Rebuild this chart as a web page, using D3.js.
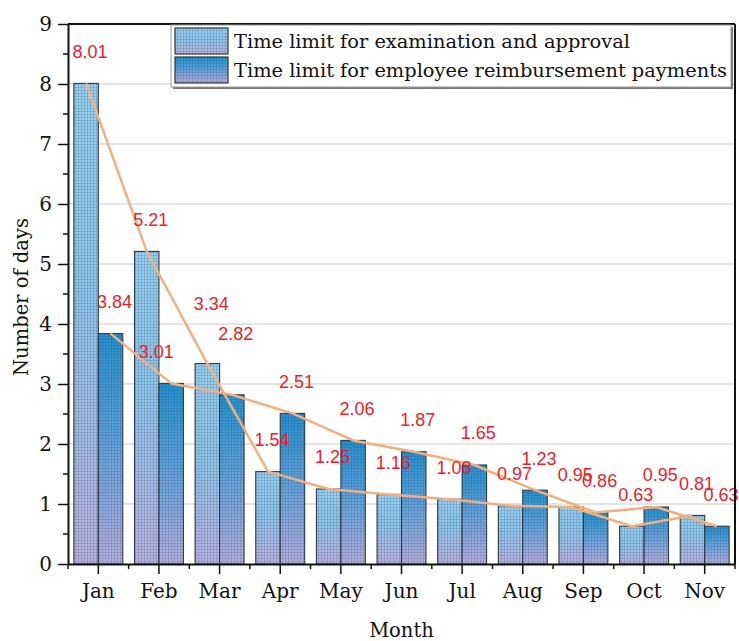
<!DOCTYPE html>
<html><head><meta charset="utf-8">
<script src="https://cdn.jsdelivr.net/npm/d3@7"></script>
<style>body{margin:0;background:#fff}svg{display:block}</style>
</head><body>
<svg id="c" width="739" height="641"></svg>
<script>
const months = ["Jan","Feb","Mar","Apr","May","Jun","Jul","Aug","Sep","Oct","Nov"];
const seriesNames = ["Time limit for examination and approval","Time limit for employee reimbursement payments"];
const examApproval = [8.01,5.21,3.34,1.54,1.25,1.16,1.08,0.97,0.95,0.63,0.81];
const reimbursement = [3.84,3.01,2.82,2.51,2.06,1.87,1.65,1.23,0.86,0.95,0.63];
const yTicks = [0,1,2,3,4,5,6,7,8,9];
const series = [examApproval, reimbursement];

// label nudges (layout only)
const labelNudge = {"1-1":[-19,0],"0-2":[0,-28],"1-2":[0,-29]};

const svg = d3.select("#c");
const L=68,R=735,T=24,B=564;
const x = d3.scaleBand().domain(months).range([L,R]).paddingInner(0).paddingOuter(0);
const xs = d3.scaleBand().domain([0,1]).range([0,x.bandwidth()]).paddingInner(0).paddingOuter(0.24);
const y = d3.scaleLinear().domain([0,9]).range([B,T]);
const serif = "DejaVu Serif";

const defs = svg.append("defs");
const grads = [["#93d1ed","#8cc5e6","#b7b2dc"],["#1f93cd","#5aa2d8","#b5b0dc"]];
grads.forEach((g,i)=>{
  const lg = defs.append("linearGradient").attr("id","g"+i).attr("x1",0).attr("y1",0).attr("x2",0).attr("y2",1);
  lg.append("stop").attr("offset","0%").attr("stop-color",g[0]);
  lg.append("stop").attr("offset","45%").attr("stop-color",g[1]);
  lg.append("stop").attr("offset","100%").attr("stop-color",g[2]);
});
const pat = defs.append("pattern").attr("id","tex").attr("width",3).attr("height",3).attr("patternUnits","userSpaceOnUse");
pat.append("path").attr("d","M0 0.5H3M0.5 0V3").attr("stroke","rgba(60,60,120,0.18)").attr("stroke-width",1);

// grid
svg.append("g").selectAll("line").data(yTicks.filter(t=>t>0&&t<9)).join("line")
  .attr("x1",L).attr("x2",R).attr("y1",d=>y(d)).attr("y2",d=>y(d))
  .attr("stroke","#c9c9c9").attr("stroke-width",1);

// bars
const gb = svg.append("g");
months.forEach((m,mi)=>{
  series.forEach((s,si)=>{
    const bx = x(m)+xs(si), bw = xs.bandwidth();
    gb.append("rect").attr("x",bx).attr("y",y(s[mi])).attr("width",bw).attr("height",B-y(s[mi]))
      .attr("fill","url(#g"+si+")");
    gb.append("rect").attr("x",bx).attr("y",y(s[mi])).attr("width",bw).attr("height",B-y(s[mi]))
      .attr("fill","url(#tex)").attr("stroke","#2f3a44").attr("stroke-width",1.1);
  });
});

// lines
const line = d3.line().x(d=>d[0]).y(d=>d[1]);
series.forEach((s,si)=>{
  const pts = months.map((m,mi)=>[x(m)+xs(si)+xs.bandwidth()/2, y(s[mi])]);
  svg.append("path").attr("d",line(pts)).attr("fill","none").attr("stroke","#f3af80").attr("stroke-width",2.5).attr("stroke-linejoin","round");
});

// labels
series.forEach((s,si)=>{
  months.forEach((m,mi)=>{
    const n = labelNudge[si+"-"+mi]||[0,0];
    svg.append("text").attr("x",x(m)+xs(si)+xs.bandwidth()/2+4+n[0]).attr("y",y(s[mi])-32+n[1])
      .attr("dy","0.36em").attr("text-anchor","middle")
      .attr("font-family","Liberation Sans").attr("font-size",18).attr("fill","#ee1c2a")
      .text(s[mi].toFixed(2));
  });
});

// axes
const ax = svg.append("g").attr("transform",`translate(0,${B})`)
  .call(d3.axisBottom(x).tickSize(10).tickSizeOuter(0).tickPadding(10));
ax.selectAll("text").attr("font-family",serif).attr("font-size",20).attr("fill","#111");
ax.selectAll("line").attr("stroke","#111").attr("stroke-width",1.5);
ax.select(".domain").attr("stroke","#111").attr("stroke-width",2);
const minorX = months.map(m=>x(m)).concat([R]);
svg.append("g").selectAll("line").data(minorX).join("line")
  .attr("x1",d=>d).attr("x2",d=>d).attr("y1",B).attr("y2",B+5).attr("stroke","#111").attr("stroke-width",1.5);

const ay = svg.append("g").attr("transform",`translate(${L},0)`)
  .call(d3.axisLeft(y).tickValues(yTicks).tickFormat(d3.format("d")).tickSize(10).tickSizeOuter(0).tickPadding(6));
ay.selectAll("text").attr("font-family",serif).attr("font-size",20).attr("fill","#111");
ay.selectAll("line").attr("stroke","#111").attr("stroke-width",1.5);
ay.select(".domain").attr("stroke","#111").attr("stroke-width",2);
const minorY = d3.range(0,9).map(v=>v+0.5);
svg.append("g").selectAll("line").data(minorY).join("line")
  .attr("x1",L-5).attr("x2",L).attr("y1",d=>y(d)).attr("y2",d=>y(d)).attr("stroke","#111").attr("stroke-width",1.5);

// frame
svg.append("line").attr("x1",L).attr("x2",R).attr("y1",T).attr("y2",T).attr("stroke","#111").attr("stroke-width",2);
svg.append("line").attr("x1",R).attr("x2",R).attr("y1",T).attr("y2",B).attr("stroke","#111").attr("stroke-width",2);

// axis titles
svg.append("text").attr("x",(L+R)/2).attr("y",637).attr("text-anchor","middle")
  .attr("font-family",serif).attr("font-size",19.5).attr("fill","#111").text("Month");
svg.append("text").attr("transform","translate(28,297) rotate(-90)").attr("text-anchor","middle")
  .attr("font-family",serif).attr("font-size",19.5).attr("fill","#111").text("Number of days");

// legend
const lg = svg.append("g");
lg.append("rect").attr("x",173).attr("y",27).attr("width",560).attr("height",62).attr("fill","#777");
lg.append("rect").attr("x",171).attr("y",25).attr("width",560).attr("height",62).attr("fill","#fff").attr("stroke","#999").attr("stroke-width",1);
seriesNames.forEach((n,i)=>{
  const yy = 28+i*29;
  lg.append("rect").attr("x",175).attr("y",yy).attr("width",53).attr("height",26).attr("fill","url(#g"+i+")");
  lg.append("rect").attr("x",175).attr("y",yy).attr("width",53).attr("height",26).attr("fill","url(#tex)").attr("stroke","#333").attr("stroke-width",1.2);
  lg.append("text").attr("x",234).attr("y",yy+13).attr("dy","0.35em")
    .attr("font-family",serif).attr("font-size",19.4).attr("fill","#111").text(n);
});
</script>
</body></html>
